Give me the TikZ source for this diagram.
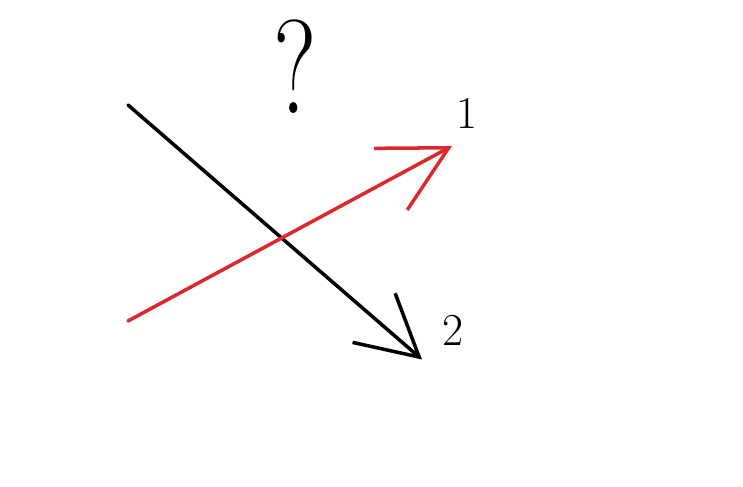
\documentclass[tikz,border=0pt]{standalone}
\usetikzlibrary{arrows.meta}
\definecolor{sketchred}{RGB}{220,40,45}
\tikzstyle{stroke} = [line width=2pt, line cap=round, line join=round]
\tikzstyle{label} = [inner sep=0pt, font=\fontsize{26}{26}\selectfont]
\begin{document}
\begin{tikzpicture}
\useasboundingbox (0,0) rectangle (14.86,9.74);
%Points and labels
\coordinate (blackstart) at (2.56,7.64);
\coordinate (blackend) at (8.44,2.55);
\coordinate (redstart) at (2.56,3.32);
\coordinate (redend) at (9.04,6.82);
\node (question) [inner sep=0pt, xscale=0.75, font=\fontsize{76}{76}\selectfont] at (5.9,8.4) {?};
\node (one) [label] at (9.34,7.48) {1};
\node (two) [label] at (9.06,3.14) {2};

%Arrows
\draw [stroke, -{Straight Barb[length=1.2cm, width=1.3cm]}] (blackstart) -- (blackend);
\draw [stroke, sketchred, -{Straight Barb[length=1.32cm, width=1.4cm]}] (redstart) -- (redend);
\end{tikzpicture}
\end{document}
